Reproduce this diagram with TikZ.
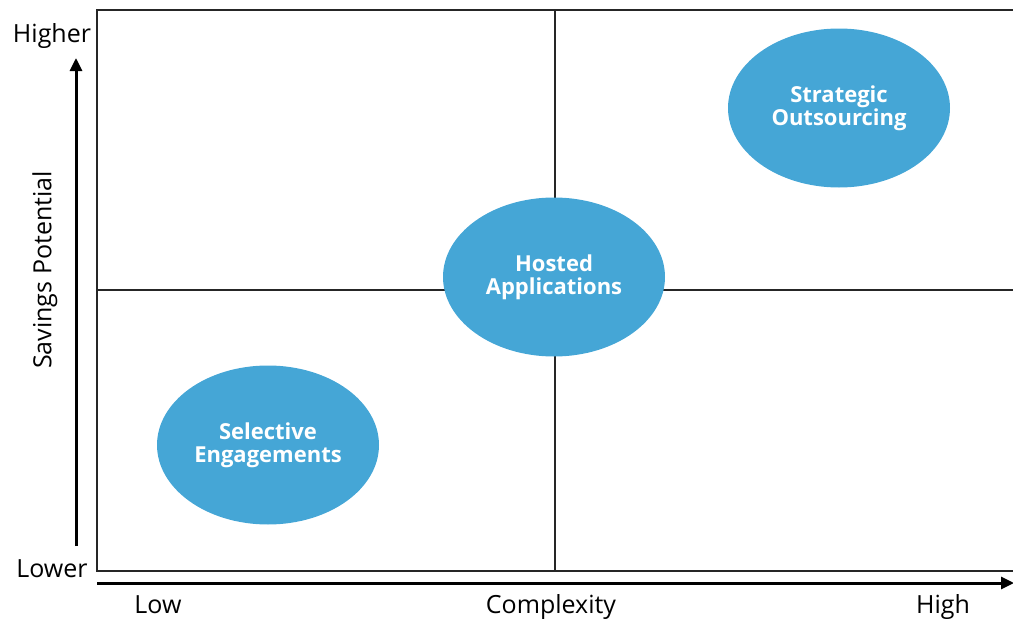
\documentclass[tikz,border=0pt]{standalone}
\usepackage{fontspec}
\setmainfont{Open Sans}
\usetikzlibrary{shapes.geometric,arrows.meta}
\definecolor{bubble}{RGB}{69,166,214}
\begin{document}
\begin{tikzpicture}[x=1pt, y=-1pt,
    option/.style ={ellipse, fill=bubble, minimum width=222pt, minimum height=159pt,
      text=white, font=\fontsize{22}{23}\selectfont\bfseries, align=center, inner sep=0pt},
    axislabel/.style ={font=\fontsize{25}{28}\selectfont, inner sep=0pt},
    axis/.style ={line width=3pt, -{Triangle[length=13pt, width=12pt]}}]
   \useasboundingbox (0,0) rectangle (1013,621);

   % quadrant frame
   \draw[line width=1.2pt, black!85] (97,10) rectangle (1016,571);
   \draw[line width=1.2pt, black!85] (555,10) -- (555,571);
   \draw[line width=1.2pt, black!85] (97,290) -- (1016,290);

   \node[option] (S) at (839,108) {Strategic\\Outsourcing};
   \node[option] (H) at (554,277) {Hosted\\Applications};
   \node[option] (E) at (268,445) {Selective\\Engagements};

   % axes
   \coordinate (Y0) at (76,546);
   \coordinate (Y1) at (76,58);
   \coordinate (X0) at (97,583);
   \coordinate (X1) at (1014,583);
   \draw[axis] (Y0) -- (Y1);
   \draw[axis] (X0) -- (X1);

   \node[axislabel, anchor=base] (hi) at (52,42) {Higher};
   \node[axislabel, anchor=base] (lo) at (52,577) {Lower};
   \node[axislabel, rotate=90] (sp) at (45,270) {Savings Potential};
   \node[axislabel, anchor=base] (low) at (158,613) {Low};
   \node[axislabel, anchor=base] (cx) at (551,613) {Complexity};
   \node[axislabel, anchor=base] (high) at (943,613) {High};

\end{tikzpicture}
\end{document}
